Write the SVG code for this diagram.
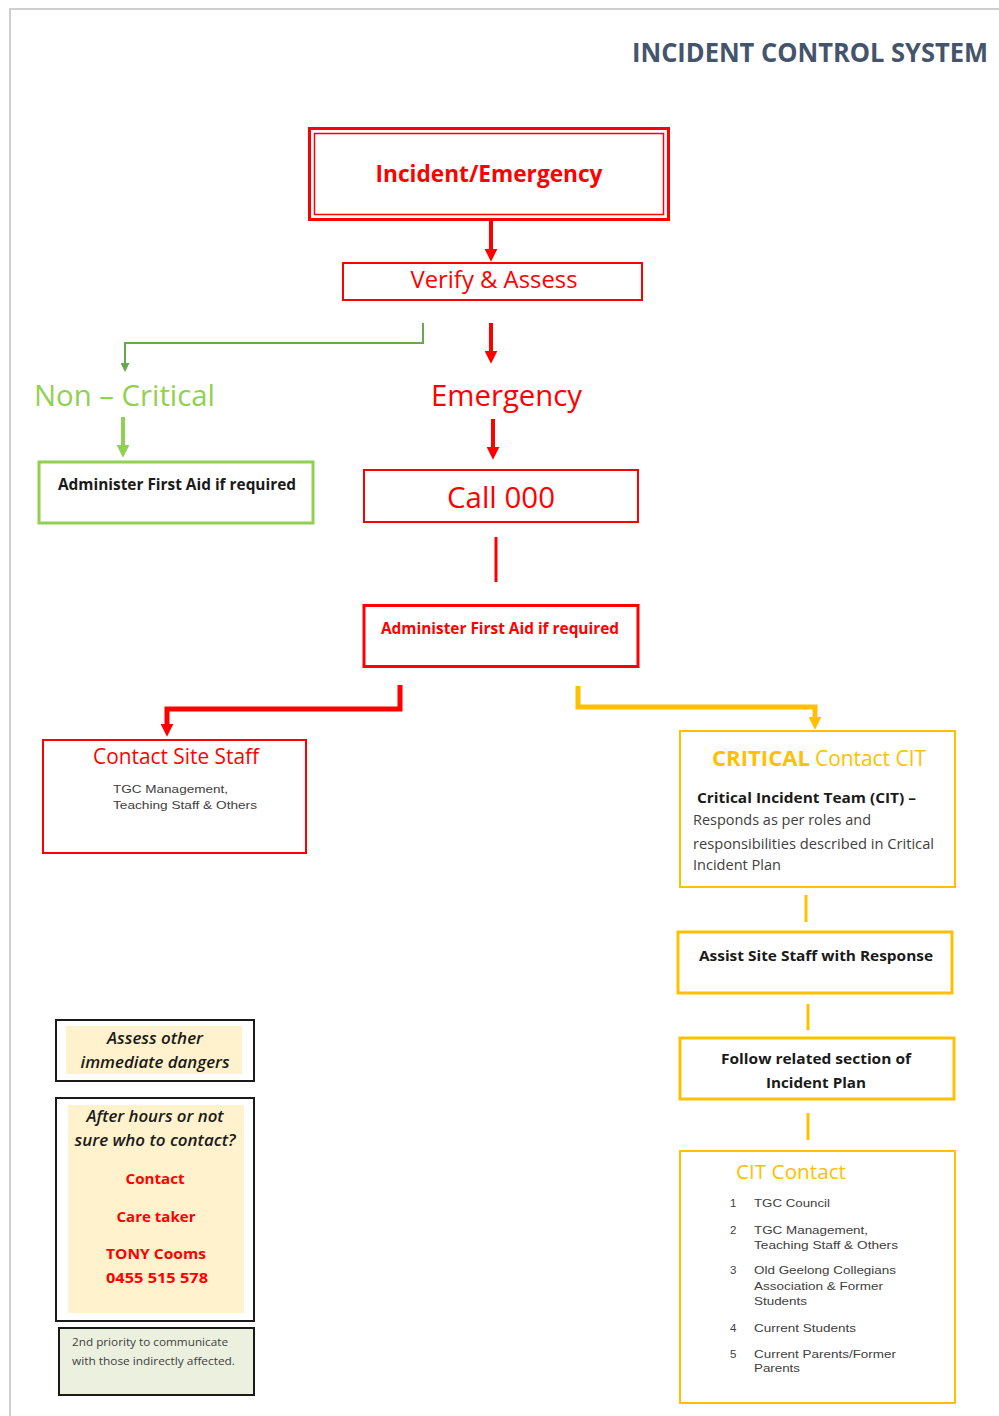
<svg xmlns="http://www.w3.org/2000/svg" width="999" height="1416" viewBox="0 0 999 1416">
<defs>
<style>
.t{font-family:"Liberation Sans",Arial,sans-serif}
.c{font-family:"Open Sans","Liberation Sans",sans-serif}
.red{fill:#FF0000}
.yel{fill:#FFC000}
.grn{fill:#92D050}
.blk{fill:#1a1a1a}
.gry{fill:#404040}
.b{font-weight:bold}
.rbox{fill:#fff;stroke:#FF0000}
.ybox{fill:#fff;stroke:#FFC000}
.kbox{fill:#fff;stroke:#1a1a1a;stroke-width:2}
</style>
<marker id="ar" viewBox="0 0 10 10" refX="1" refY="5" markerWidth="13" markerHeight="13" markerUnits="userSpaceOnUse" orient="auto"><path d="M0,0 L10,5 L0,10 z" fill="#FF0000"/></marker>
<marker id="ag" viewBox="0 0 10 10" refX="1" refY="5" markerWidth="13" markerHeight="13" markerUnits="userSpaceOnUse" orient="auto"><path d="M0,0 L10,5 L0,10 z" fill="#92D050"/></marker>
<marker id="ag2" viewBox="0 0 10 10" refX="1" refY="5" markerWidth="9" markerHeight="9" markerUnits="userSpaceOnUse" orient="auto"><path d="M0,0 L10,5 L0,10 z" fill="#6AA84F"/></marker>
<marker id="ay" viewBox="0 0 10 10" refX="1" refY="5" markerWidth="13" markerHeight="13" markerUnits="userSpaceOnUse" orient="auto"><path d="M0,0 L10,5 L0,10 z" fill="#FFC000"/></marker>
</defs>
<rect width="999" height="1416" fill="#fff"/>
<path d="M10,1416 V9 H999" fill="none" stroke="#cfcfcf" stroke-width="2"/>

<g id="title"><text class="c b" x="988" y="62" font-size="26" text-anchor="end" fill="#44546A" textLength="356" lengthAdjust="spacingAndGlyphs">INCIDENT CONTROL SYSTEM</text></g>

<g id="connectors" fill="none">
<path d="M491,220 V250" stroke="#FF0000" stroke-width="4" marker-end="url(#ar)"/>
<path d="M423,323 V343 H125 V364" stroke="#6AA84F" stroke-width="2" marker-end="url(#ag2)"/>
<path d="M491,323 V352" stroke="#FF0000" stroke-width="4" marker-end="url(#ar)"/>
<path d="M123,417 V446" stroke="#92D050" stroke-width="4" marker-end="url(#ag)"/>
<path d="M493,419 V448" stroke="#FF0000" stroke-width="4" marker-end="url(#ar)"/>
<path d="M496,537 V582" stroke="#FF0000" stroke-width="3"/>
<path d="M400,685 V709 H167 V725" stroke="#FF0000" stroke-width="5" marker-end="url(#ar)"/>
<path d="M578,686 V707 H815 V718" stroke="#FFC000" stroke-width="5" marker-end="url(#ay)"/>
<path d="M806,895 V922" stroke="#FFC000" stroke-width="3"/>
<path d="M808,1004 V1030" stroke="#FFC000" stroke-width="3"/>
<path d="M808,1113 V1140" stroke="#FFC000" stroke-width="3"/>
</g>

<g id="incident">
<rect x="309.5" y="128.5" width="359" height="91" fill="#fff" stroke="#FF0000" stroke-width="3"/>
<rect x="314.5" y="133.5" width="349" height="81" fill="none" stroke="#FF0000" stroke-width="1.5"/>
<text class="c b red" x="489" y="182" font-size="24" text-anchor="middle" textLength="227" lengthAdjust="spacingAndGlyphs">Incident/Emergency</text>
</g>

<g id="verify">
<rect class="rbox" x="343" y="263" width="299" height="37" stroke-width="2"/>
<text class="c red" x="494" y="288" font-size="24" text-anchor="middle" textLength="167" lengthAdjust="spacingAndGlyphs">Verify &amp; Assess</text>
</g>

<g id="noncritical"><text class="c grn" x="34" y="406" font-size="30" textLength="181" lengthAdjust="spacingAndGlyphs">Non – Critical</text></g>
<g id="emergency"><text class="c red" x="431" y="406" font-size="30" textLength="151" lengthAdjust="spacingAndGlyphs">Emergency</text></g>

<g id="firstaid-green">
<rect x="39" y="462" width="274" height="61" fill="#fff" stroke="#92D050" stroke-width="3"/>
<text class="c b blk" x="58" y="490" font-size="16" textLength="238" lengthAdjust="spacingAndGlyphs">Administer First Aid if required</text>
</g>

<g id="call000">
<rect class="rbox" x="364" y="470" width="274" height="52" stroke-width="2"/>
<text class="c red" x="501" y="508" font-size="30" text-anchor="middle" textLength="108" lengthAdjust="spacingAndGlyphs">Call 000</text>
</g>

<g id="firstaid-red">
<rect class="rbox" x="364" y="605.5" width="274" height="61" stroke-width="3"/>
<text class="c b red" x="381" y="634" font-size="16" textLength="238" lengthAdjust="spacingAndGlyphs">Administer First Aid if required</text>
</g>

<g id="sitestaff">
<rect class="rbox" x="43" y="740" width="263" height="113" stroke-width="2"/>
<text class="c red" x="93" y="764" font-size="22" textLength="166" lengthAdjust="spacingAndGlyphs">Contact Site Staff</text>
<text class="t gry" x="113" y="793" font-size="11.5" textLength="115" lengthAdjust="spacingAndGlyphs">TGC Management,</text>
<text class="t gry" x="113" y="809" font-size="11.5" textLength="144" lengthAdjust="spacingAndGlyphs">Teaching Staff &amp; Others</text>
</g>

<g id="critical">
<rect class="ybox" x="680" y="731" width="275" height="156" stroke-width="2"/>
<text class="c b yel" x="712" y="766" font-size="22" textLength="98" lengthAdjust="spacingAndGlyphs">CRITICAL</text>
<text class="c yel" x="815" y="766" font-size="22" textLength="111" lengthAdjust="spacingAndGlyphs">Contact CIT</text>
<text class="c b blk" x="697" y="803" font-size="15" textLength="219" lengthAdjust="spacingAndGlyphs">Critical Incident Team (CIT) –</text>
<text class="c gry" x="693" y="825" font-size="14" textLength="178" lengthAdjust="spacingAndGlyphs">Responds as per roles and</text>
<text class="c gry" x="693" y="849" font-size="14" textLength="241" lengthAdjust="spacingAndGlyphs">responsibilities described in Critical</text>
<text class="c gry" x="693" y="870" font-size="14" textLength="88" lengthAdjust="spacingAndGlyphs">Incident Plan</text>
</g>

<g id="assist">
<rect class="ybox" x="678" y="932" width="274" height="61" stroke-width="3"/>
<text class="c b blk" x="816" y="961" font-size="15" text-anchor="middle" textLength="234" lengthAdjust="spacingAndGlyphs">Assist Site Staff with Response</text>
</g>

<g id="follow">
<rect class="ybox" x="680" y="1038" width="274" height="61" stroke-width="3"/>
<text class="c b blk" x="816" y="1064" font-size="15" text-anchor="middle" textLength="190" lengthAdjust="spacingAndGlyphs">Follow related section of</text>
<text class="c b blk" x="816" y="1088" font-size="15" text-anchor="middle" textLength="100" lengthAdjust="spacingAndGlyphs">Incident Plan</text>
</g>

<g id="citcontact">
<rect class="ybox" x="680" y="1151" width="275" height="252" stroke-width="2"/>
<text class="c yel" x="736" y="1179" font-size="20" textLength="110" lengthAdjust="spacingAndGlyphs">CIT Contact</text>
<g class="t gry" font-size="11.5">
<text x="730" y="1207">1</text><text x="754" y="1207" textLength="76" lengthAdjust="spacingAndGlyphs">TGC Council</text>
<text x="730" y="1234">2</text><text x="754" y="1234" textLength="114" lengthAdjust="spacingAndGlyphs">TGC Management,</text>
<text x="754" y="1249" textLength="144" lengthAdjust="spacingAndGlyphs">Teaching Staff &amp; Others</text>
<text x="730" y="1274">3</text><text x="754" y="1274" textLength="142" lengthAdjust="spacingAndGlyphs">Old Geelong Collegians</text>
<text x="754" y="1290" textLength="129" lengthAdjust="spacingAndGlyphs">Association &amp; Former</text>
<text x="754" y="1305" textLength="53" lengthAdjust="spacingAndGlyphs">Students</text>
<text x="730" y="1332">4</text><text x="754" y="1332" textLength="102" lengthAdjust="spacingAndGlyphs">Current Students</text>
<text x="730" y="1358">5</text><text x="754" y="1358" textLength="142" lengthAdjust="spacingAndGlyphs">Current Parents/Former</text>
<text x="754" y="1372" textLength="46" lengthAdjust="spacingAndGlyphs">Parents</text>
</g>
</g>

<g id="assess">
<rect class="kbox" x="56" y="1020" width="198" height="61"/>
<rect x="66" y="1026" width="176" height="48" fill="#FFF2CC"/>
<text class="c blk" x="155" y="1044" font-size="16" font-style="italic" font-weight="600" text-anchor="middle" textLength="96" lengthAdjust="spacingAndGlyphs">Assess other</text>
<text class="c blk" x="155" y="1068" font-size="16" font-style="italic" font-weight="600" text-anchor="middle" textLength="149" lengthAdjust="spacingAndGlyphs">immediate dangers</text>
</g>

<g id="afterhours">
<rect class="kbox" x="56" y="1098" width="198" height="223"/>
<rect x="68" y="1105" width="176" height="208" fill="#FFF2CC"/>
<text class="c blk" x="155" y="1122" font-size="16" font-style="italic" font-weight="600" text-anchor="middle" textLength="137" lengthAdjust="spacingAndGlyphs">After hours or not</text>
<text class="c blk" x="155" y="1146" font-size="16" font-style="italic" font-weight="600" text-anchor="middle" textLength="161" lengthAdjust="spacingAndGlyphs">sure who to contact?</text>
<text class="c b red" x="155" y="1184" font-size="15" text-anchor="middle" textLength="59" lengthAdjust="spacingAndGlyphs">Contact</text>
<text class="c b red" x="156" y="1222" font-size="15" text-anchor="middle" textLength="79" lengthAdjust="spacingAndGlyphs">Care taker</text>
<text class="c b red" x="156" y="1259" font-size="15" text-anchor="middle" textLength="100" lengthAdjust="spacingAndGlyphs">TONY Cooms</text>
<text class="c b red" x="157" y="1283" font-size="15" text-anchor="middle" textLength="102" lengthAdjust="spacingAndGlyphs">0455 515 578</text>
</g>

<g id="priority">
<rect x="59" y="1328" width="195" height="67" fill="#EBF1DE" stroke="#1a1a1a" stroke-width="2"/>
<text class="c gry" x="72" y="1346" font-size="11" textLength="156" lengthAdjust="spacingAndGlyphs">2nd priority to communicate</text>
<text class="c gry" x="72" y="1365" font-size="11" textLength="163" lengthAdjust="spacingAndGlyphs">with those indirectly affected.</text>
</g>
</svg>
